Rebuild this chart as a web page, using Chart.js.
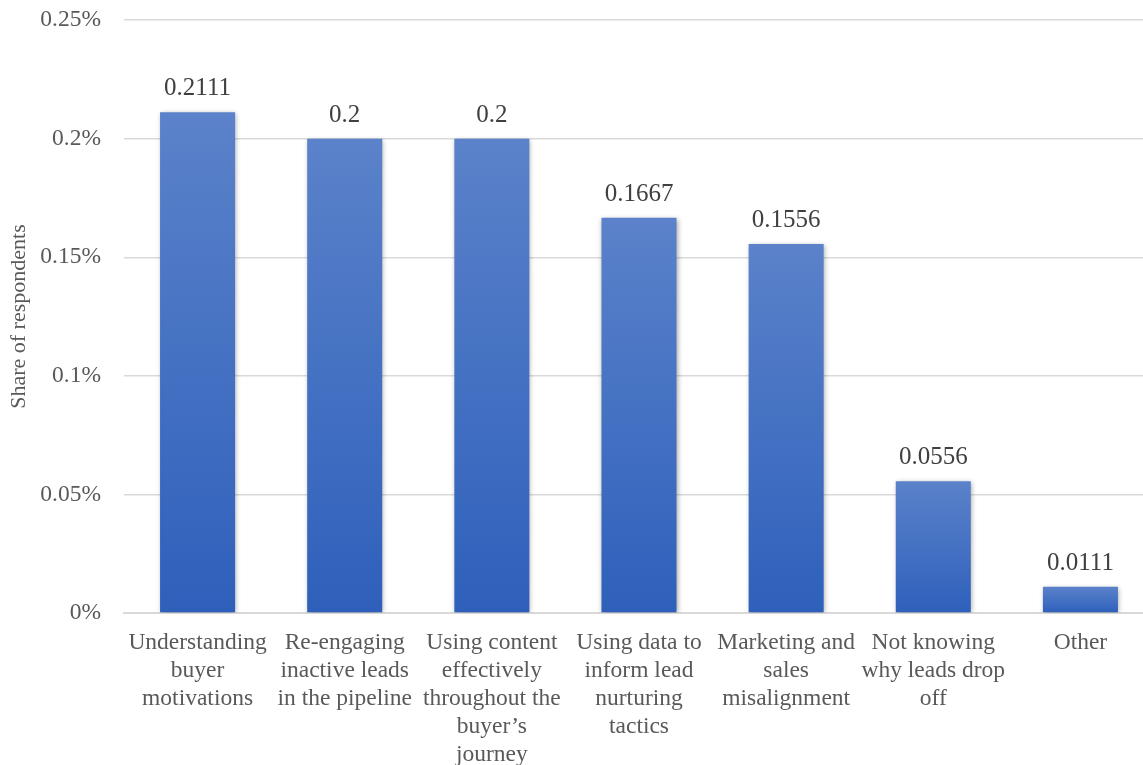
<!DOCTYPE html>
<html>
<head>
<meta charset="utf-8">
<script src="https://cdn.jsdelivr.net/npm/chart.js@4/dist/chart.umd.min.js"></script>
<style>
  html, body { margin: 0; padding: 0; background: #fff; overflow: hidden; }
  #wrap { width: 1154px; height: 782px; margin-top: -17px; }
</style>
</head>
<body>
<div id="wrap"><canvas id="chart"></canvas></div>
<script>
// chart data
const categories = [
    ['Understanding', 'buyer', 'motivations'],
    ['Re-engaging', 'inactive leads', 'in the pipeline'],
    ['Using content', 'effectively', 'throughout the', 'buyer\u2019s', 'journey'],
    ['Using data to', 'inform lead', 'nurturing', 'tactics'],
    ['Marketing and', 'sales', 'misalignment'],
    ['Not knowing', 'why leads drop', 'off'],
    ['Other']
];
const shares = [0.2111, 0.2, 0.2, 0.1667, 0.1556, 0.0556, 0.0111];
const valueLabels = ['0.2111', '0.2', '0.2', '0.1667', '0.1556', '0.0556', '0.0111'];
const yTicks = [0, 0.05, 0.1, 0.15, 0.2, 0.25];

const font = 'Liberation Serif, Times New Roman, serif';
const textColor = '#595959';

// gradient per bar: lighter at top, darker at the base
function barFill(context) {
    const chart = context.chart;
    if (!chart.chartArea) return '#4472c4';
    const yScale = chart.scales.y;
    const top = yScale.getPixelForValue(context.raw);
    const base = yScale.getPixelForValue(0);
    const g = chart.ctx.createLinearGradient(0, top, 0, base);
    g.addColorStop(0, '#5b82ca');
    g.addColorStop(1, '#2e60bb');
    return g;
}

const valueLabelPlugin = {
    id: 'valueLabels',
    beforeDatasetsDraw(chart) {
        const ctx = chart.ctx;
        ctx.save();
        ctx.shadowColor = 'rgba(0,0,0,0.35)';
        ctx.shadowBlur = 5;
        ctx.shadowOffsetX = 1;
        ctx.shadowOffsetY = 1;
    },
    afterDatasetsDraw(chart) {
        const ctx = chart.ctx;
        ctx.restore();
        const meta = chart.getDatasetMeta(0);
        ctx.save();
        ctx.font = '25px ' + font;
        ctx.fillStyle = '#404040';
        ctx.textAlign = 'center';
        ctx.textBaseline = 'bottom';
        meta.data.forEach((bar, i) => {
            ctx.fillText(valueLabels[i], bar.x, bar.y - 11);
        });
        ctx.restore();
    }
};

new Chart(document.getElementById('chart'), {
    type: 'bar',
    data: {
        labels: categories,
        datasets: [{
            data: shares,
            backgroundColor: barFill,
            borderWidth: 0,
            barPercentage: 1,
            categoryPercentage: 0.51
        }]
    },
    options: {
        responsive: true,
        maintainAspectRatio: false,
        animation: false,
        layout: { padding: { top: 0, left: 6, bottom: 0, right: 0 } },
        plugins: {
            legend: { display: false },
            tooltip: { enabled: false }
        },
        scales: {
            x: {
                grid: { display: false, drawTicks: false },
                border: { color: '#d9d9d9', width: 2 },
                ticks: {
                    color: textColor,
                    font: { family: font, size: 23.5, lineHeight: 1.19 },
                    maxRotation: 0,
                    autoSkip: false,
                    padding: 16
                },
                afterFit(axis) { axis.height = 152; }
            },
            y: {
                min: 0,
                max: 0.25,
                afterBuildTicks(axis) {
                    axis.ticks = yTicks.map(v => ({ value: v }));
                },
                afterFit(axis) { axis.width = 118; },
                grid: { color: '#d9d9d9', lineWidth: 1.5, drawTicks: false },
                border: { display: false },
                ticks: {
                    color: textColor,
                    font: { family: font, size: 23.5 },
                    padding: 23,
                    callback: v => v + '%'
                },
                title: {
                    display: true,
                    text: 'Share of respondents',
                    color: textColor,
                    font: { family: font, size: 22 },
                    padding: { top: 0, bottom: 4 }
                }
            }
        }
    },
    plugins: [valueLabelPlugin]
});
</script>
</body>
</html>
